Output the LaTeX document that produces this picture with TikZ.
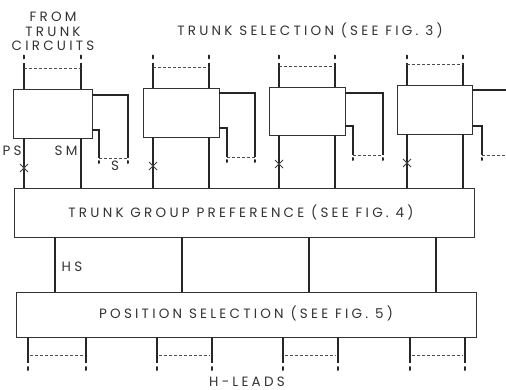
\documentclass[tikz,border=0pt]{standalone}
\usepackage{fontspec}
\setmainfont[LetterSpace=24]{Poppins}
\begin{document}
\begin{tikzpicture}[x=1pt,y=-1pt,
  box/.style={draw=black!80,line width=0.8pt,fill=white,inner sep=0pt},
  lead/.style={draw=black!85,line width=1.6pt},
  dashlead/.style={draw=black!70,line width=0.8pt,dash pattern=on 3pt off 2pt},
  dotend/.style={draw=black!85,line width=2pt,line cap=round},
  xmark/.style={draw=black!75,line width=0.8pt},
  lbl/.style={font=\fontsize{13.5}{15}\selectfont,text=black!80,inner sep=0pt}]
\useasboundingbox (0,0) rectangle (506,390);
% upper boxes
\node[box,minimum width=79pt,minimum height=49pt] (b1) at (52.5,113.5) {};
\node[box,minimum width=76pt,minimum height=49pt] (b2) at (181,112.5) {};
\node[box,minimum width=76pt,minimum height=48pt] (b3) at (307,111) {};
\node[box,minimum width=75pt,minimum height=49pt] (b4) at (434.5,109.5) {};
% big boxes
\node[box,minimum width=460pt,minimum height=49pt] (tgp) at (244,212.5) {};
\node[lbl] (tgpt) at (241,212) {TRUNK GROUP PREFERENCE (SEE FIG. 4)};
\node[box,minimum width=460pt,minimum height=45pt] (ps) at (246,314.5) {};
\node[lbl] (pst) at (246,313) {POSITION SELECTION (SEE FIG. 5)};
% labels
\node[lbl] (from1) at (53,17) {FROM};
\node[lbl] (from2) at (53,32) {TRUNK};
\node[lbl] (from3) at (53,46) {CIRCUITS};
\node[lbl] (tsel) at (310,30) {TRUNK SELECTION (SEE FIG. 3)};
\node[lbl] (lps) at (12,151) {PS};
\node[lbl] (lsm) at (66,151) {SM};
\node[lbl] (ls) at (115,166) {S};
\node[lbl] (lhs) at (72,267) {HS};
\node[lbl] (lh) at (247,382) {H-LEADS};
% per box elements
\foreach \b/\L/\R/\A/\B/\yd/\yt in {b1/24/81/128/99/158/68, b2/153/209/255/227/157/67, b3/279/335/383/353/155/66, b4/407/463/506/482/155/64}{
  % top leads
  \coordinate (\b tl) at (\L,63);
  \coordinate (\b tr) at (\R,63);
  \draw[lead] (\b tl) -- (\b.north -| \b tl);
  \draw[lead] (\b tr) -- (\b.north -| \b tr);
  \draw[dotend] (\L,55.5) -- (\L,58.5);
  \draw[dotend] (\R,55.5) -- (\R,58.5);
  \draw[dashlead] (\L,\yt) -- (\R,\yt);
  % bottom leads to TGP
  \draw[lead] (\b.south -| \b tl) -- (tgp.north -| \b tl);
  \draw[lead] (\b.south -| \b tr) -- (tgp.north -| \b tr);
  % side leads
  \coordinate (\b sa) at (\A,\yd);
  \coordinate (\b sb) at (\B,\yd);
}
% X marks
\foreach \x/\y in {24/168,153/166,279/164,407/163}{
  \draw[xmark] (\x-4,\y-4) -- (\x+4,\y+4) (\x-4,\y+4) -- (\x+4,\y-4);
}
% side loops
\draw[lead] (b1.east |- 0,95) -| (b1sa);
\draw[lead] (b1.east |- 0,130) -| (b1sb);
\draw[lead] (b2.east |- 0,93) -| (b2sa);
\draw[lead] (b2.east |- 0,128) -| (b2sb);
\draw[lead] (b3.east |- 0,93) -| (b3sa);
\draw[lead] (b3.east |- 0,126) -| (b3sb);
\draw[lead] (b4.east |- 0,90) -- (506,90);
\draw[lead] (b4.east |- 0,126) -| (b4sb);
\foreach \x/\y in {128/158,99/158,255/157,227/157,383/155,353/155,482/155}{
  \draw[dotend] (\x,\y+3) -- (\x,\y+5);
}
\draw[dashlead] (b1sb) -- (b1sa);
\draw[dashlead] (b2sb) -- (b2sa);
\draw[dashlead] (b3sb) -- (b3sa);
\draw[dashlead] (b4sb) -- (b4sa);
% TGP to PS
\foreach \x/\n in {55/h1,182/h2,309/h3,436/h4}{
  \coordinate (\n) at (\x,0);
  \draw[lead] (tgp.south -| \n) -- (ps.north -| \n);
}
% H-leads
\foreach \L/\R/\n in {28/86/p1,157/212/p2,283/338/p3,410/465/p4}{
  \coordinate (\n l) at (\L,363);
  \coordinate (\n r) at (\R,363);
  \draw[lead] (ps.south -| \n l) -- (\n l);
  \draw[lead] (ps.south -| \n r) -- (\n r);
  \draw[dotend] (\L,367) -- (\L,370);
  \draw[dotend] (\R,367) -- (\R,370);
  \draw[dashlead] (\L+2,355) -- (\R-2,355);
}
\end{tikzpicture}
\end{document}
